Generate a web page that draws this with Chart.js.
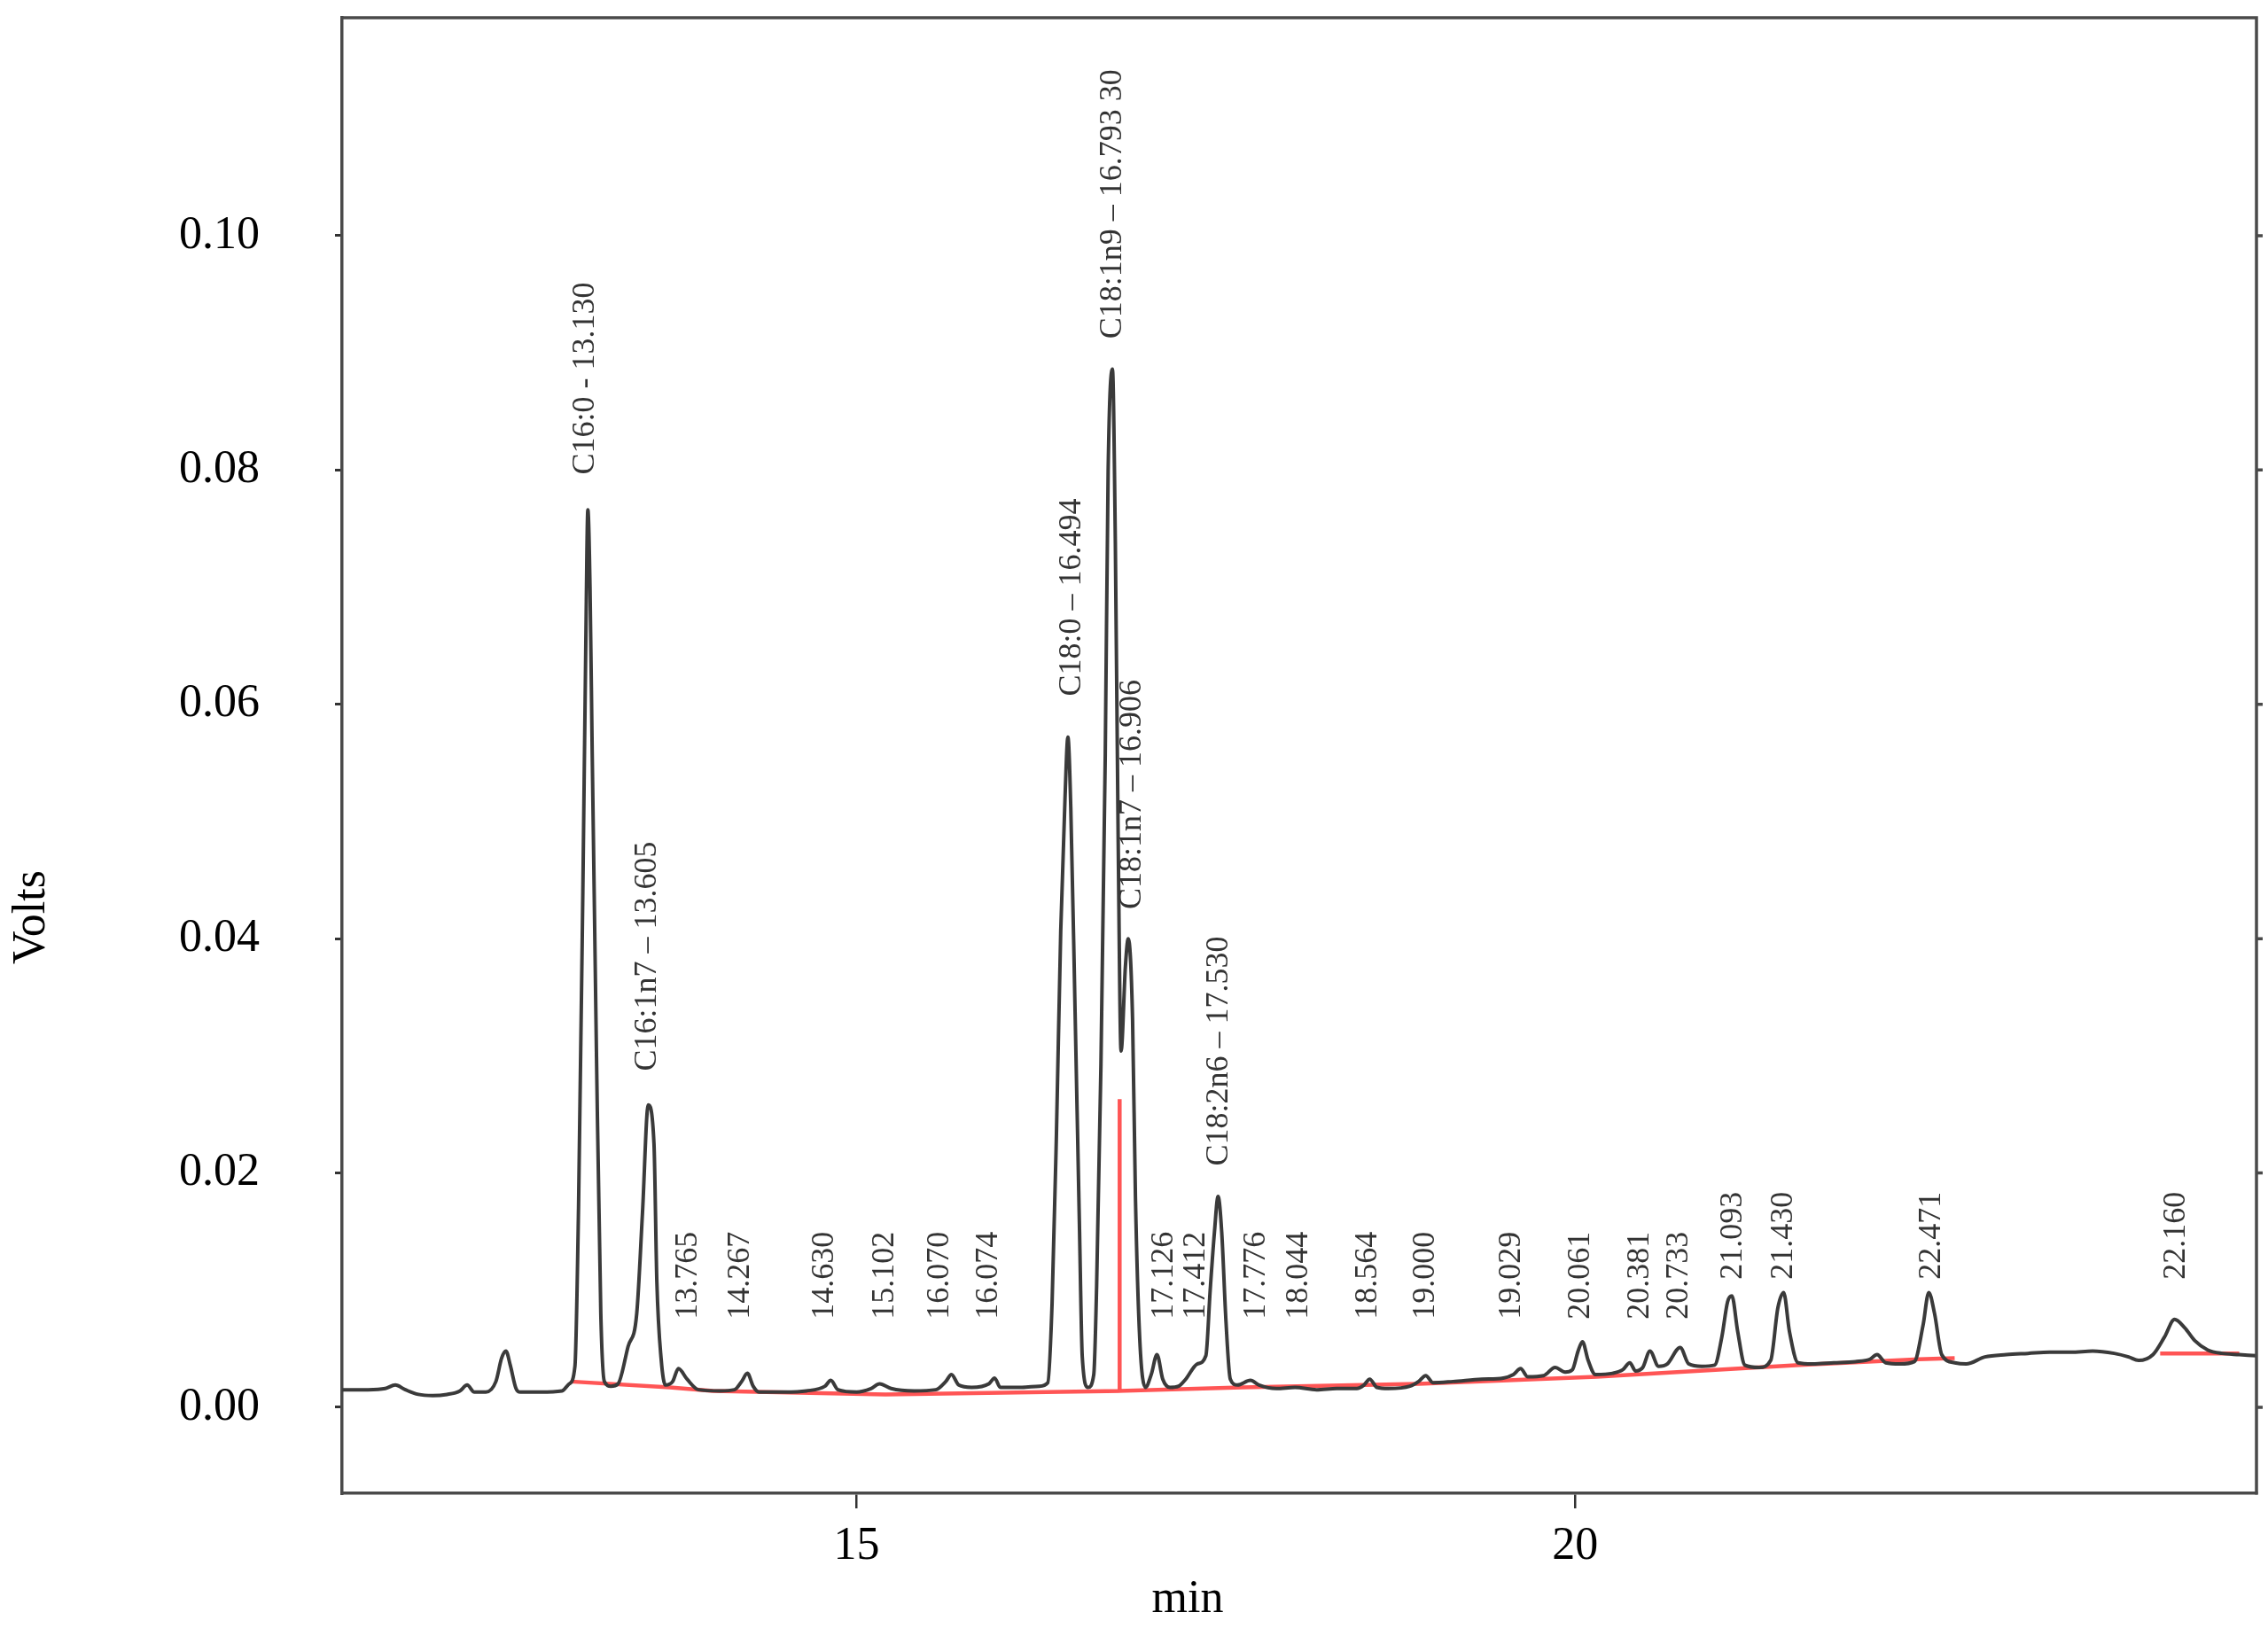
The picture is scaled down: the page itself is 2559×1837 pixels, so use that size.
<!DOCTYPE html>
<html>
<head>
<meta charset="utf-8">
<script src="https://cdn.jsdelivr.net/npm/chart.js@4.4.0/dist/chart.umd.min.js"></script>
<style>
  html, body { margin: 0; padding: 0; background: #fff; }
  #chromChart { display: block; }
</style>
</head>
<body>
<canvas id="chromChart" width="2559" height="1837"></canvas>
<script>
// detector trace (minutes, volts)
const retentionTime = [
  11.42, 11.60, 11.72, 11.79, 11.86, 11.95, 12.05, 12.15, 12.24, 12.29, 12.34, 12.42, 12.49, 12.53, 12.56, 12.59, 12.63, 12.66, 12.80, 12.95,
  13.00, 13.04, 13.065, 13.095, 13.115, 13.13, 13.145, 13.16, 13.19, 13.22, 13.245, 13.29,
  13.34, 13.41, 13.47, 13.51, 13.55, 13.59, 13.61, 13.64, 13.67,
  13.72, 13.76, 13.82, 13.90, 14.05, 14.15, 14.20, 14.24, 14.28, 14.32, 14.50, 14.65, 14.78, 14.82, 14.87,
  15.00, 15.10, 15.16, 15.24, 15.40, 15.55, 15.62, 15.66, 15.71, 15.80, 15.92, 15.96, 16.00, 16.15, 16.27,
  16.33, 16.36, 16.39, 16.42, 16.45, 16.47, 16.49, 16.52, 16.55, 16.57, 16.61, 16.65,
  16.67, 16.70, 16.73, 16.75, 16.78, 16.80, 16.82, 16.84, 16.87, 16.89, 16.92, 16.94, 16.97, 17.01,
  17.05, 17.09, 17.13, 17.18, 17.24, 17.29, 17.37, 17.43, 17.46, 17.49, 17.515, 17.54, 17.57, 17.60, 17.65,
  17.74, 17.80, 17.92, 18.05, 18.20, 18.34, 18.48, 18.53, 18.57, 18.62, 18.70, 18.85, 18.91, 18.96, 19.01,
  19.15, 19.35, 19.50, 19.57, 19.62, 19.67, 19.78, 19.86, 19.93, 19.98, 20.02, 20.05, 20.09, 20.14,
  20.26, 20.33, 20.38, 20.42, 20.47, 20.52, 20.58, 20.64, 20.73, 20.79, 20.88, 20.97,
  21.02, 21.06, 21.09, 21.13, 21.18, 21.28, 21.36, 21.41, 21.45, 21.49, 21.55,
  21.65, 21.80, 21.95, 22.05, 22.10, 22.16, 22.26, 22.36, 22.42, 22.46, 22.50, 22.55, 22.64,
  22.72, 22.85, 23.00, 23.15, 23.30, 23.45, 23.60, 23.75, 23.85, 23.92, 24.02,
  24.10, 24.17, 24.24, 24.31, 24.40, 24.50, 24.62, 24.74
];
const signalVolts = [
  0.0015, 0.0015, 0.0016, 0.0019, 0.0015, 0.0011, 0.0010, 0.0011, 0.0014, 0.0019, 0.0013, 0.0013, 0.0022, 0.0042, 0.0048, 0.0036, 0.0016, 0.0013, 0.0013, 0.0014,
  0.0020, 0.0035, 0.0170, 0.0440, 0.0645, 0.0766, 0.0700, 0.0560, 0.0300, 0.0080, 0.0022, 0.0018,
  0.0020, 0.0052, 0.0080, 0.0166, 0.0258, 0.0225, 0.0107, 0.0041, 0.0019,
  0.0022, 0.0033, 0.0024, 0.0015, 0.0014, 0.0015, 0.0022, 0.0029, 0.0018, 0.0013, 0.0013, 0.0014, 0.0018, 0.0023, 0.0015,
  0.0013, 0.0016, 0.0020, 0.0016, 0.0014, 0.0015, 0.0022, 0.0028, 0.0019, 0.0017, 0.0020, 0.0025, 0.0017, 0.0017, 0.0018,
  0.0021, 0.0089, 0.0232, 0.0406, 0.0520, 0.0572, 0.0512, 0.0338, 0.0157, 0.0043, 0.0017, 0.0028,
  0.0104, 0.0293, 0.0557, 0.0799, 0.0886, 0.0739, 0.0482, 0.0304, 0.0376, 0.0400, 0.0331, 0.0179, 0.0058, 0.0017,
  0.0028, 0.0045, 0.0024, 0.0017, 0.0018, 0.0024, 0.0037, 0.0044, 0.0100, 0.0150, 0.0180, 0.0150, 0.0073, 0.0024, 0.0019,
  0.0023, 0.0019, 0.0016, 0.0017, 0.0015, 0.0016, 0.0016, 0.0019, 0.0024, 0.0017, 0.0016, 0.0018, 0.0022, 0.0027, 0.0021,
  0.0022, 0.0024, 0.0025, 0.0028, 0.0033, 0.0026, 0.0027, 0.0034, 0.0030, 0.0032, 0.0048, 0.0056, 0.0040, 0.0028,
  0.0029, 0.0032, 0.0038, 0.0031, 0.0034, 0.0048, 0.0035, 0.0037, 0.0051, 0.0037, 0.0035, 0.0036,
  0.0060, 0.0090, 0.0095, 0.0065, 0.0036, 0.0034, 0.0040, 0.0085, 0.0098, 0.0065, 0.0038,
  0.0037, 0.0038, 0.0039, 0.0041, 0.0045, 0.0038, 0.0037, 0.0039, 0.0070, 0.0098, 0.0080, 0.0045, 0.0038,
  0.0037, 0.0043, 0.0045, 0.0046, 0.0047, 0.0047, 0.0048, 0.0046, 0.0043, 0.0040, 0.0045,
  0.0060, 0.0075, 0.0068, 0.0057, 0.0049, 0.0046, 0.0045, 0.0044
];

// integration baseline (red) incl. the drop line between C18:1n9 and C18:1n7
const baselineTime  = [13.01, 13.70, 14.00, 15.20, 16.32, 16.83, 16.83, 16.83, 17.68, 18.91, 20.15, 21.56, 22.39, 22.64, 23.30, 24.07, 24.62];
const baselineVolts = [0.0022, 0.0017, 0.0014, 0.0011, 0.0013, 0.0014, 0.0263, 0.0014, 0.0017, 0.0020, 0.0026, 0.0036, 0.0041, 0.0042, null, 0.0046, 0.0046];

// peak annotations
const peakLabels = [
  'C16:0 - 13.130', 'C16:1n7 \u2013 13.605', '13.765', '14.267', '14.630', '15.102', '16.070', '16.074',
  'C18:0 \u2013 16.494', 'C18:1n9 \u2013 16.793 30', 'C18:1n7 \u2013 16.906', '17.126', '17.412', 'C18:2n6 \u2013 17.530',
  '17.776', '18.044', '18.564', '19.000', '19.029', '20.061', '20.381', '20.733', '21.093', '21.430', '22.471', '22.160'
];
const peakLabelTime = [
  13.11, 13.545, 13.83, 14.19, 14.78, 15.20, 15.58, 15.92,
  16.50, 16.78, 16.92, 17.14, 17.36, 17.52,
  17.78, 18.08, 18.56, 18.96, 19.56, 20.04, 20.45, 20.72, 21.10, 21.45, 22.48, 24.18
];
const peakLabelLevel = [
  0.0796, 0.0287, 0.0075, 0.0075, 0.0075, 0.0075, 0.0075, 0.0075,
  0.0607, 0.0912, 0.0425, 0.0075, 0.0075, 0.0206,
  0.0075, 0.0075, 0.0075, 0.0075, 0.0075, 0.0075, 0.0075, 0.0075, 0.0109, 0.0109, 0.0109, 0.0109
];

const xTickValues = [15, 20];
const yTickValues = [0, 0.02, 0.04, 0.06, 0.08, 0.10];

const serif = '"Liberation Serif", "DejaVu Serif", serif';

const tracePoints = retentionTime.map((t, i) => ({ x: t, y: signalVolts[i] }));
const baselinePoints = baselineTime.map((t, i) => ({ x: t, y: baselineVolts[i] }));

// top/right frame, right-side tick marks, axis titles and peak labels
const decorPlugin = {
  id: 'decor',
  afterDatasetsDraw(chart) {
    const { ctx, scales: { x, y } } = chart;
    ctx.save();
    ctx.fillStyle = '#333';
    ctx.font = '36px ' + serif;
    ctx.textAlign = 'left';
    ctx.textBaseline = 'middle';
    peakLabels.forEach((txt, i) => {
      const px = x.getPixelForValue(peakLabelTime[i]);
      const py = y.getPixelForValue(peakLabelLevel[i]);
      ctx.save();
      ctx.translate(px, py);
      ctx.rotate(-Math.PI / 2);
      ctx.fillText(txt, 0, 0);
      ctx.restore();
    });
    ctx.restore();
  },
  afterDraw(chart) {
    const { ctx, chartArea: a, scales: { y } } = chart;
    ctx.save();
    ctx.strokeStyle = '#4a4a4a';
    ctx.lineWidth = 3.5;
    ctx.beginPath();
    ctx.moveTo(a.left - 1.5, a.top);
    ctx.lineTo(a.right, a.top);
    ctx.lineTo(a.right, a.bottom + 1.5);
    yTickValues.forEach(v => {
      const py = y.getPixelForValue(v);
      ctx.moveTo(a.right, py);
      ctx.lineTo(a.right + 7, py);
    });
    ctx.stroke();

    ctx.fillStyle = '#000';
    ctx.font = '52px ' + serif;
    ctx.textAlign = 'center';
    ctx.textBaseline = 'middle';
    ctx.save();
    ctx.translate(36, 1035);
    ctx.rotate(-Math.PI / 2);
    ctx.fillText('Volts', 0, 0);
    ctx.restore();
    ctx.fillText('min', 1340, 1805);
    ctx.restore();
  }
};

new Chart(document.getElementById('chromChart'), {
  type: 'line',
  data: {
    datasets: [
      {
        label: 'signal',
        data: tracePoints,
        borderColor: '#3a3a3a',
        borderWidth: 4,
        pointRadius: 0,
        cubicInterpolationMode: 'monotone',
        fill: false
      },
      {
        label: 'baseline',
        data: baselinePoints,
        borderColor: 'rgba(255, 55, 55, 0.85)',
        borderWidth: 4.5,
        pointRadius: 0,
        tension: 0,
        spanGaps: false,
        fill: false
      }
    ]
  },
  options: {
    responsive: false,
    devicePixelRatio: 1,
    animation: false,
    layout: { padding: { top: 20, right: 13, left: 0, bottom: 0 } },
    plugins: {
      legend: { display: false },
      tooltip: { enabled: false }
    },
    scales: {
      x: {
        type: 'linear',
        min: 11.42,
        max: 24.74,
        afterBuildTicks: scale => { scale.ticks = xTickValues.map(v => ({ value: v })); },
        afterFit: scale => { scale.height = 152; scale.paddingLeft = 0; scale.paddingRight = 0; },
        grid: { drawOnChartArea: false, drawTicks: true, tickLength: 17, color: '#333', lineWidth: 2.5 },
        border: { display: true, color: '#4a4a4a', width: 3.5 },
        ticks: {
          padding: 12,
          color: '#000',
          font: { family: serif, size: 52 },
          maxRotation: 0,
          callback: v => String(v)
        }
      },
      y: {
        type: 'linear',
        min: -0.00734,
        max: 0.1186,
        afterBuildTicks: scale => { scale.ticks = yTickValues.map(v => ({ value: v })); },
        afterFit: scale => { scale.width = 386; scale.paddingTop = 0; scale.paddingBottom = 0; },
        grid: { drawOnChartArea: false, drawTicks: true, tickLength: 8, color: '#333', lineWidth: 3 },
        border: { display: true, color: '#4a4a4a', width: 3.5 },
        ticks: {
          padding: 85,
          color: '#000',
          font: { family: serif, size: 52 },
          callback: v => v.toFixed(2)
        }
      }
    }
  },
  plugins: [decorPlugin]
});
</script>
</body>
</html>
